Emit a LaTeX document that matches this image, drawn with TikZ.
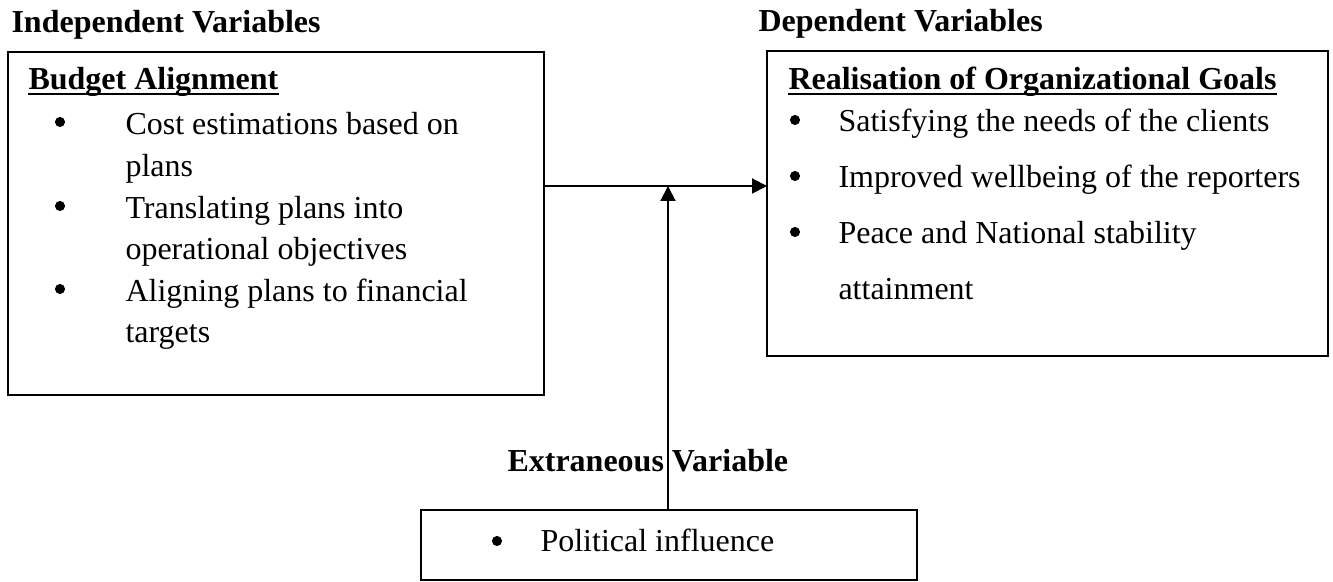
\documentclass[tikz,border=0pt]{standalone}
\usepackage{fontspec}
\setmainfont{Liberation Serif}
\usetikzlibrary{arrows.meta}
\begin{document}
\begin{tikzpicture}[x=0.375pt,y=-0.375pt,
  box/.style={draw, line width=0.75pt, inner sep=0pt, outer sep=0pt, anchor=north west},
  txt/.style={inner sep=0pt, anchor=base west, font=\fontsize{12}{14}\selectfont},
  head/.style={txt, font=\fontsize{12}{14}\selectfont\bfseries},
  dot/.style={circle, fill, draw=none, inner sep=0pt, minimum size=3.8pt},
  link/.style={line width=0.75pt, -{Triangle[length=5.6pt,width=5.6pt]}},
  uline/.style={line width=0.7pt}]
\useasboundingbox (0,0) rectangle (1333,582);

% frames
\node[box, minimum width=201pt, minimum height=128.6pt] (ind) at (8,52) {};
\node[box, minimum width=210.4pt, minimum height=114.4pt] (dep) at (767,51) {};
\node[box, minimum width=186pt, minimum height=26.2pt] (ext) at (421,510) {};

% column titles
\node[head] (indt) at (11,33) {Independent Variables};
\node[head] (dept) at (758,32) {Dependent Variables};
\node[head] (extt) at (507,472) {Extraneous Variable};

% independent variable
\node[head] (bud) at (28,90) {Budget Alignment};
\draw[uline] ([yshift=-1.6pt]bud.base west) -- ([yshift=-1.6pt]bud.base east);
\node[dot] (ib1) at (60,122) {};
\node[dot] (ib2) at (60,206) {};
\node[dot] (ib3) at (60,289) {};
\node[txt] (i1) at (125,135) {Cost estimations based on};
\node[txt] (i2) at (125,177) {plans};
\node[txt] (i3) at (125,219) {Translating plans into};
\node[txt] (i4) at (125,260) {operational objectives};
\node[txt] (i5) at (125,302) {Aligning plans to financial};
\node[txt] (i6) at (125,343) {targets};

% dependent variable
\node[head] (goal) at (788,90) {Realisation of Organizational Goals};
\draw[uline] ([yshift=-1.6pt]goal.base west) -- ([yshift=-1.6pt]goal.base east);
\node[dot] (db1) at (795,120) {};
\node[dot] (db2) at (795,176) {};
\node[dot] (db3) at (795,232) {};
\node[txt] (d1) at (838,132) {Satisfying the needs of the clients};
\node[txt] (d2) at (838,188) {Improved wellbeing of the reporters};
\node[txt] (d3) at (838,244) {Peace and National stability};
\node[txt] (d4) at (838,300) {attainment};

% extraneous variable
\node[dot] (eb1) at (497,541) {};
\node[txt] (e1) at (540,552) {Political influence};

% connectors
\coordinate (meet) at (668,186);
\draw[link] (ind.east |- meet) -- (dep.west |- meet);
\draw[link] (ext.north -| meet) -- (meet);
\end{tikzpicture}
\end{document}
